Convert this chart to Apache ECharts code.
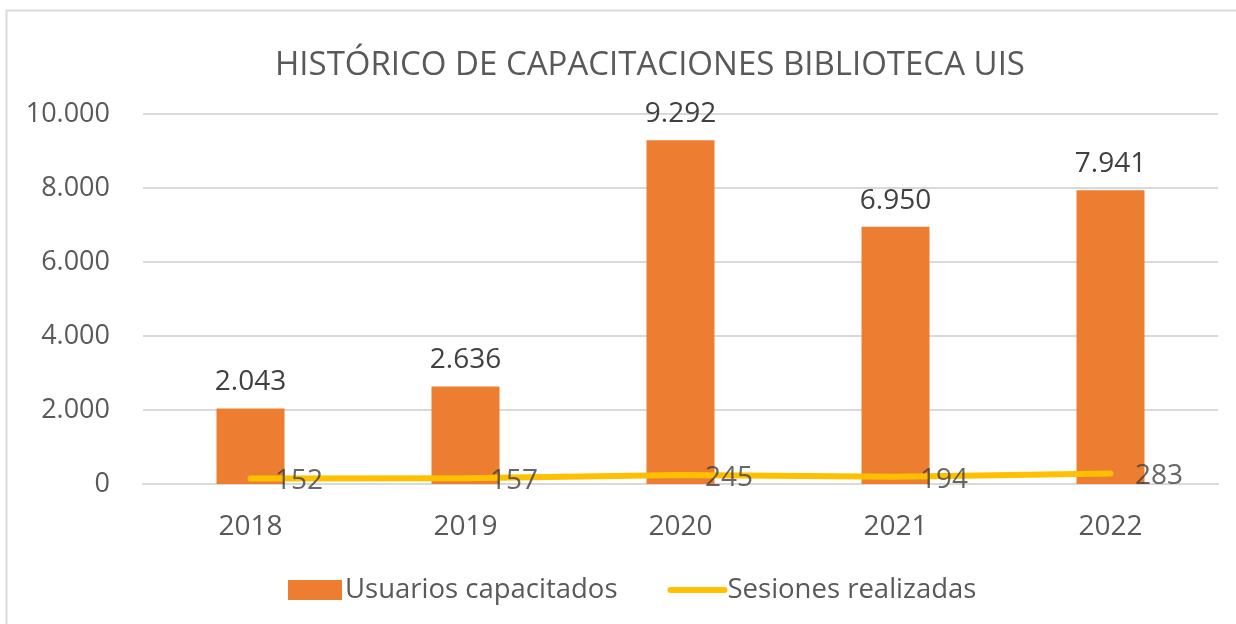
<!DOCTYPE html>
<html>
<head>
<meta charset="utf-8">
<script src="https://cdn.jsdelivr.net/npm/echarts@6/dist/echarts.min.js"></script>
<style>
  html, body { margin: 0; padding: 0; background: #fff; }
  #chart { width: 1236px; height: 624px; }
</style>
</head>
<body>
<div id="chart"></div>
<script>
// 数据
const years = ['2018', '2019', '2020', '2021', '2022'];
const usuarios = [2043, 2636, 9292, 6950, 7941];
const sesiones = [152, 157, 245, 194, 283];
const yTicks = { min: 0, max: 10000, interval: 2000 };

const FONT = '"Open Sans", "Liberation Sans", sans-serif';

// 千位分隔用点号
function fmtDot(v) {
  return String(v).replace(/\B(?=(\d{3})+(?!\d))/g, '.');
}

const chart = echarts.init(document.getElementById('chart'), null, { renderer: 'canvas' });

chart.setOption({
  backgroundColor: '#fff',
  animation: false,
  textStyle: { fontFamily: FONT },
  title: {
    text: 'HISTÓRICO DE CAPACITACIONES BIBLIOTECA UIS',
    left: 270,
    top: 44,
    textStyle: { fontFamily: FONT, fontSize: 33, fontWeight: 'normal', color: '#595959' }
  },
  graphic: [{
    type: 'rect',
    shape: { x: 6.5, y: 10.5, width: 1300, height: 700 },
    style: { fill: 'none', stroke: '#D9D9D9', lineWidth: 2 },
    silent: true
  }],
  legend: {
    bottom: 15,
    left: 283,
    itemGap: 50,
    itemWidth: 54,
    itemHeight: 20,
    textStyle: { fontFamily: FONT, fontSize: 27.5, color: '#595959', padding: [0, 0, 0, -2] },
    data: [
      { name: 'Usuarios capacitados', icon: 'rect' },
      {
        name: 'Sesiones realizadas',
        itemStyle: { opacity: 0 },
        lineStyle: { width: 6, color: '#FFC000', cap: 'round' }
      }
    ]
  },
  grid: { left: 143, right: 18, top: 114, bottom: 140, containLabel: false },
  xAxis: {
    type: 'category',
    data: years,
    axisLine: { lineStyle: { color: '#D9D9D9', width: 2 } },
    axisTick: { show: false },
    axisLabel: { color: '#595959', fontSize: 28, fontFamily: FONT, margin: 29 }
  },
  yAxis: {
    type: 'value',
    min: yTicks.min,
    max: yTicks.max,
    interval: yTicks.interval,
    axisLine: { show: false },
    axisTick: { show: false },
    splitLine: { lineStyle: { color: '#D9D9D9', width: 2 } },
    axisLabel: { color: '#595959', fontSize: 27, fontFamily: FONT, margin: 33, formatter: fmtDot }
  },
  series: [
    {
      name: 'Usuarios capacitados',
      type: 'bar',
      data: usuarios,
      barWidth: 68,
      itemStyle: { color: '#ED7D31' },
      label: {
        show: true, position: 'top', distance: 12,
        color: '#404040', fontSize: 28, fontFamily: FONT,
        formatter: (p) => fmtDot(p.value)
      }
    },
    {
      name: 'Sesiones realizadas',
      type: 'line',
      data: sesiones,
      symbol: 'none',
      itemStyle: { color: '#FFC000' },
      lineStyle: { color: '#FFC000', width: 6, cap: 'round', join: 'round' }
    },
    {
      // 折线数据标签（透明散点承载）
      name: 'label-sesiones',
      type: 'scatter',
      data: sesiones,
      symbolSize: 1,
      silent: true,
      itemStyle: { color: 'rgba(0,0,0,0)' },
      label: {
        show: true, position: 'right', distance: 24, offset: [0, 3],
        color: '#404040', fontSize: 28, fontFamily: FONT,
        formatter: (p) => fmtDot(p.value)
      },
      z: 5
    }
  ]
});
</script>
</body>
</html>
